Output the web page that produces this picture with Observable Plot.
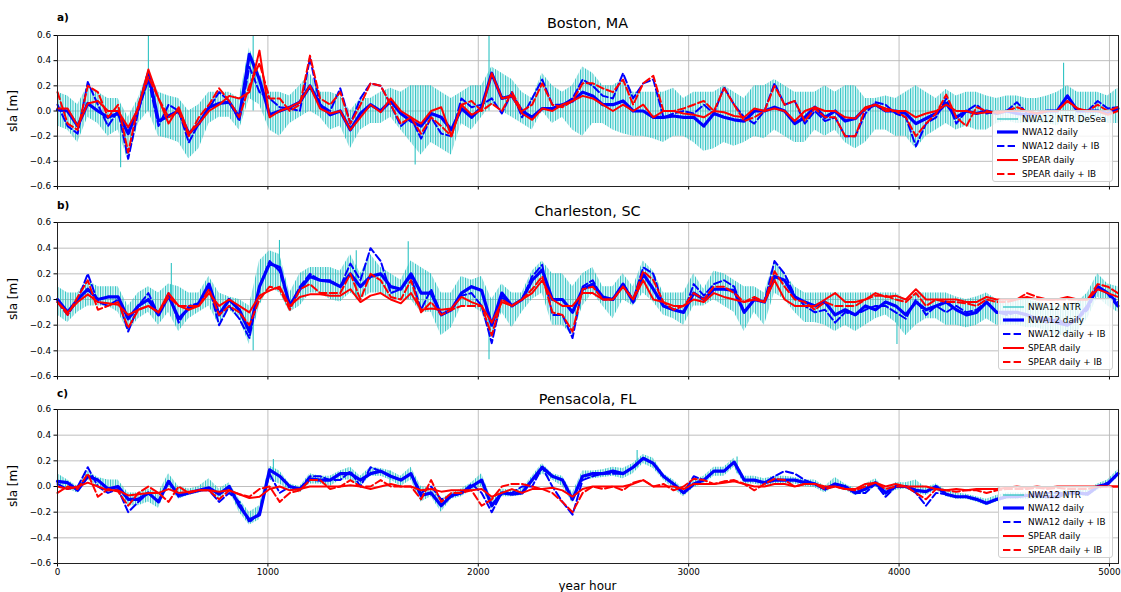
<!DOCTYPE html>
<html><head><meta charset="utf-8">
<script src="https://cdn.jsdelivr.net/npm/d3@7"></script>
<script src="https://cdn.jsdelivr.net/npm/@observablehq/plot@0.6"></script>
<style>
body{margin:0;background:#fff;font-family:"DejaVu Sans",sans-serif;}
#wrap{position:relative;width:1121px;height:592px;overflow:hidden;background:#fff;}
.abs{position:absolute;white-space:nowrap;color:#000;}
.title{font-size:14.4px;text-align:center;line-height:18px;}
.plabel{font-size:10.5px;font-weight:bold;line-height:12px;}
.ylab{font-size:12px;line-height:14px;transform:translate(-50%,-50%) rotate(-90deg);}
.legend{position:absolute;background:rgba(255,255,255,0.8);border:1px solid #d0d0d0;border-radius:3px;box-sizing:border-box;}
.legrow{position:absolute;left:0;height:12px;font-size:8.8px;line-height:12px;color:#000;}
</style>
</head><body><div id="wrap"></div>
<script>
// ---------- data ----------
const hours = d3.range(0, 5041, 48);            // sample hours (every 2 days)
const xTicks = [0, 1000, 2000, 3000, 4000, 5000];
const yTicks = [-0.6, -0.4, -0.2, 0, 0.2, 0.4, 0.6];
const stations = ["Boston, MA", "Charleston, SC", "Pensacola, FL"];
const panelLabels = ["a)", "b)", "c)"];
const ntrLabels = ["NWA12 NTR DeSea", "NWA12 NTR", "NWA12 NTR"];
const seriesLabels = ["NWA12 daily", "NWA12 daily + IB", "SPEAR daily", "SPEAR daily + IB"];

// Boston
const bosNwa = [0.01,0.0,-0.12,0.06,0.0,-0.05,-0.02,-0.18,0.02,0.3,-0.08,-0.04,0.0,-0.18,-0.1,0.03,0.06,0.07,-0.05,0.45,0.25,-0.03,0.0,0.03,0.07,0.2,0.05,
 -0.03,0.0,-0.15,-0.02,0.05,0.0,0.08,-0.02,-0.08,-0.12,-0.02,-0.05,-0.15,0.02,-0.05,0.03,0.3,0.1,0.12,0.0,-0.05,0.02,0.02,0.05,0.08,0.15,0.12,
 0.05,0.05,0.08,0.0,0.0,-0.05,-0.05,-0.04,-0.05,-0.05,-0.12,-0.02,-0.05,-0.07,-0.08,0.0,0.0,0.03,0.0,-0.1,-0.05,0.03,-0.05,0.0,-0.08,-0.06,
 0.02,0.05,0.0,0.0,-0.02,-0.1,-0.06,-0.02,0.06,-0.05,0.0,-0.02,0.0,-0.02,0.0,-0.02,-0.03,-0.02,0.0,0.0,0.12,0.0,0.0,0.0,-0.02,0.02];
const bosNwaIB = [0.05,-0.12,-0.18,0.23,0.05,-0.12,0.0,-0.38,0.0,0.25,-0.12,0.05,0.0,-0.25,-0.1,0.02,0.15,0.08,-0.08,0.35,0.15,0.1,0.03,0.02,0.0,0.42,0.05,
 0.0,0.18,-0.1,0.1,0.22,0.2,0.05,-0.12,-0.05,-0.22,-0.05,-0.18,-0.2,0.1,0.03,0.05,0.1,-0.02,0.15,-0.05,0.1,0.25,0.05,0.05,0.1,0.25,0.2,
 0.12,0.1,0.3,0.1,0.22,0.25,-0.05,-0.02,0.0,-0.02,0.05,-0.02,0.19,0.05,-0.05,-0.1,0.0,0.22,0.05,0.08,-0.1,0.0,-0.08,-0.05,-0.2,-0.2,
 -0.02,0.07,0.05,-0.02,-0.05,-0.28,-0.1,-0.05,0.1,-0.1,0.0,0.05,-0.02,0.0,0.0,0.07,-0.02,-0.02,0.0,0.0,0.12,0.0,0.0,0.08,0.02,0.03];
const bosSpear = [0.02,0.02,-0.12,0.06,0.08,0.0,0.0,-0.13,0.02,0.33,0.1,-0.1,0.03,-0.18,-0.1,0.0,0.05,0.12,0.1,0.15,0.48,-0.05,0.0,0.03,0.07,0.2,0.02,
 -0.02,0.0,-0.15,-0.05,0.05,-0.01,0.1,0.0,-0.05,-0.1,0.0,0.03,-0.2,0.05,-0.03,0.01,0.3,0.1,0.12,-0.02,-0.07,0.02,0.0,0.05,0.08,0.12,0.1,
 0.05,0.0,0.05,0.0,0.05,-0.05,0.0,0.0,-0.02,-0.03,-0.05,0.0,-0.01,-0.04,-0.05,0.02,0.0,0.02,0.0,-0.08,0.0,0.03,0.0,0.0,-0.05,-0.06,
 0.03,0.05,0.02,0.0,0.0,-0.05,-0.02,0.0,0.05,0.0,0.0,-0.02,-0.01,-0.01,0.0,0.0,0.0,-0.02,0.0,0.0,0.08,0.02,0.0,0.0,-0.03,0.0];
const bosSpearIB = [0.15,-0.1,-0.15,0.2,0.15,-0.05,0.05,-0.33,0.05,0.27,0.1,-0.05,0.0,-0.2,-0.05,0.05,0.18,0.08,-0.05,0.2,0.38,0.1,0.1,0.0,0.05,0.44,0.1,
 0.05,0.15,-0.1,0.05,0.22,0.2,0.05,-0.1,-0.05,-0.18,-0.05,-0.12,-0.2,0.05,0.08,0.0,0.06,0.0,0.15,0.0,0.05,0.22,0.05,0.03,0.08,0.22,0.22,
 0.18,0.15,0.25,0.05,0.22,0.28,0.0,0.0,0.02,0.05,0.08,0.0,0.18,0.05,-0.08,-0.05,0.0,0.2,0.05,0.08,-0.08,0.02,-0.05,-0.05,-0.2,-0.2,
 0.02,0.05,0.0,0.0,-0.05,-0.2,-0.1,-0.02,0.13,-0.05,-0.12,0.03,0.0,-0.02,0.0,0.03,0.0,-0.02,0.0,0.0,0.08,0.02,0.0,0.05,0.0,0.03];
const bosNtrHi = [0.15,0.12,0.05,0.2,0.15,0.1,0.1,-0.05,0.1,0.32,0.15,0.12,0.1,0.0,0.05,0.15,0.15,0.15,0.1,0.5,0.3,0.15,0.15,0.12,0.2,0.3,0.15,
 0.15,0.12,0.0,0.1,0.1,0.15,0.18,0.15,0.2,0.2,0.2,0.15,0.1,0.15,0.2,0.2,0.35,0.3,0.25,0.15,0.1,0.3,0.2,0.15,0.2,0.35,0.3,
 0.2,0.2,0.25,0.15,0.15,0.15,0.15,0.18,0.1,0.15,0.15,0.15,0.2,0.15,0.1,0.2,0.2,0.25,0.2,0.15,0.15,0.15,0.2,0.15,0.2,0.2,
 0.1,0.1,0.12,0.1,0.15,0.2,0.15,0.1,0.17,0.12,0.15,0.15,0.12,0.1,0.12,0.12,0.1,0.1,0.12,0.15,0.2,0.15,0.15,0.15,0.12,0.18];
const bosNtrLo = [-0.12,-0.15,-0.25,-0.05,-0.1,-0.2,-0.15,-0.4,-0.1,0.0,-0.2,-0.22,-0.25,-0.38,-0.3,-0.1,-0.05,-0.05,-0.15,0.1,0.05,-0.15,-0.2,-0.1,-0.05,0.0,-0.05,
 -0.15,-0.12,-0.3,-0.15,-0.1,-0.1,-0.05,-0.15,-0.25,-0.35,-0.25,-0.3,-0.35,-0.1,-0.15,-0.05,0.05,0.0,-0.05,-0.1,-0.15,0.0,-0.1,-0.05,-0.15,-0.2,-0.1,
 -0.1,-0.15,-0.18,-0.2,-0.2,-0.22,-0.25,-0.2,-0.2,-0.25,-0.32,-0.3,-0.25,-0.28,-0.25,-0.2,-0.22,-0.15,-0.2,-0.25,-0.25,-0.15,-0.2,-0.15,-0.25,-0.3,
 -0.25,-0.15,-0.15,-0.2,-0.2,-0.3,-0.2,-0.15,-0.1,-0.15,-0.12,-0.15,-0.15,-0.1,-0.08,-0.1,-0.1,-0.1,-0.1,-0.12,-0.05,-0.1,-0.1,-0.05,-0.1,-0.1];
// isolated hourly extremes (hour, bottom, top)
const bosSpikeHours = [300, 432, 930, 1700, 2051, 4782];
const bosSpikeBottom = [-0.45, 0.0, 0.0, -0.43, 0.0, 0.0];
const bosSpikeTop = [-0.1, 0.6, 0.6, -0.1, 0.6, 0.38];

// Charleston
const chaNwa = [0.0,-0.1,0.0,0.08,0.0,0.02,0.02,-0.15,-0.05,0.0,-0.12,0.03,-0.15,-0.07,-0.03,0.12,-0.12,0.0,-0.08,-0.25,0.1,0.28,0.25,-0.05,0.08,0.18,0.15,
 0.14,0.1,0.2,0.1,0.18,0.2,0.1,0.08,0.2,0.05,0.05,-0.12,-0.08,0.05,0.1,0.07,-0.2,0.05,-0.05,0.0,0.15,0.23,0.0,0.0,-0.1,0.08,0.12,
 0.02,0.0,0.12,-0.02,0.2,0.08,-0.05,-0.08,-0.1,0.05,0.0,0.08,0.08,0.07,-0.1,0.0,-0.02,0.18,0.15,0.02,-0.02,-0.05,-0.02,-0.12,-0.08,-0.12,
 -0.05,-0.08,-0.02,-0.05,-0.12,-0.02,-0.08,-0.05,-0.02,-0.08,-0.12,-0.1,-0.02,-0.1,-0.1,-0.1,-0.12,-0.15,-0.15,-0.18,-0.2,-0.15,-0.05,0.1,0.05,-0.05];
const chaNwaIB = [-0.02,-0.12,0.0,0.2,-0.02,-0.05,0.0,-0.25,-0.05,0.05,-0.12,0.05,-0.18,-0.05,-0.03,0.1,-0.2,-0.05,-0.15,-0.3,0.1,0.3,0.22,-0.05,0.1,0.2,0.15,
 0.15,0.1,0.28,0.15,0.4,0.3,0.05,0.08,0.18,-0.08,0.08,-0.12,-0.08,0.03,0.05,-0.05,-0.34,0.02,-0.05,0.0,0.18,0.27,-0.12,-0.12,-0.3,0.1,0.15,
 0.0,0.0,0.12,0.0,0.25,0.2,-0.05,-0.08,-0.1,0.12,0.03,0.12,0.15,0.1,-0.1,0.0,-0.02,0.3,0.2,0.03,-0.05,-0.1,-0.08,-0.18,-0.1,-0.12,
 -0.08,-0.05,-0.05,-0.1,-0.15,0.0,-0.12,-0.05,-0.1,-0.05,-0.1,-0.08,-0.02,-0.1,-0.12,-0.1,-0.12,-0.15,-0.18,-0.15,-0.2,-0.15,-0.08,0.1,0.05,-0.02];
const chaSpear = [-0.02,-0.1,-0.02,0.04,-0.02,-0.03,-0.04,-0.12,-0.08,-0.05,-0.1,0.05,-0.05,-0.08,-0.05,0.05,-0.05,0.0,-0.05,-0.1,0.03,0.07,0.1,-0.05,0.02,0.04,0.04,
 0.03,0.03,0.08,-0.02,0.03,0.05,0.0,-0.03,0.05,-0.08,-0.07,-0.08,-0.07,0.02,-0.02,-0.05,-0.18,-0.02,-0.05,0.0,0.05,0.15,0.0,-0.05,-0.05,0.05,0.05,
 0.0,0.0,0.1,0.0,0.15,0.0,-0.02,-0.05,-0.05,0.0,-0.02,0.05,0.02,0.0,-0.02,0.0,-0.02,0.15,0.0,-0.05,-0.05,-0.05,0.0,0.05,-0.02,-0.02,
 0.0,0.05,0.02,0.03,0.0,0.08,0.0,0.0,0.0,0.0,-0.02,-0.02,0.02,0.0,0.0,0.0,0.02,0.0,0.0,0.0,0.02,0.0,0.0,0.08,0.05,0.02];
const chaSpearIB = [-0.02,-0.12,0.02,0.15,-0.08,-0.05,-0.02,-0.22,-0.08,-0.05,-0.1,0.02,-0.05,-0.05,-0.05,0.08,-0.12,-0.05,-0.1,-0.2,0.0,0.1,0.08,-0.08,0.08,0.12,0.05,
 0.05,0.05,0.2,0.0,0.2,0.15,0.02,0.0,0.15,-0.1,-0.02,-0.12,-0.08,-0.05,-0.05,-0.05,-0.28,0.0,-0.05,0.0,0.08,0.18,-0.1,-0.12,-0.25,0.08,0.1,
 0.0,0.0,0.1,0.0,0.22,0.15,-0.02,-0.08,-0.05,0.05,0.0,0.1,0.1,0.05,-0.02,0.02,-0.02,0.22,0.1,0.0,-0.02,-0.08,-0.02,-0.05,-0.05,-0.05,
 0.0,0.03,0.03,0.0,-0.02,0.05,-0.05,0.0,-0.02,-0.02,-0.03,-0.05,0.0,-0.02,-0.02,0.0,0.05,0.02,0.0,0.0,0.0,0.0,0.0,0.12,0.1,0.05];
const chaNtrHi = [0.1,0.05,0.05,0.15,0.1,0.1,0.1,-0.05,0.05,0.1,0.05,0.12,0.1,0.05,0.05,0.18,0.05,0.02,0.0,-0.05,0.3,0.38,0.35,0.05,0.2,0.25,0.25,
 0.25,0.22,0.35,0.2,0.35,0.25,0.2,0.15,0.3,0.25,0.2,0.05,0.05,0.18,0.15,0.18,0.0,0.12,0.05,0.05,0.22,0.3,0.2,0.2,0.1,0.2,0.25,
 0.1,0.1,0.2,0.1,0.3,0.22,0.05,0.05,0.05,0.2,0.08,0.22,0.2,0.15,0.1,0.1,0.05,0.3,0.2,0.1,0.05,0.05,0.05,0.05,0.05,0.05,
 0.05,0.05,0.05,0.05,0.0,0.05,0.05,0.05,0.05,0.02,0.0,0.02,0.05,0.0,0.0,0.0,0.0,-0.02,-0.05,-0.05,-0.05,-0.02,0.05,0.2,0.12,0.1];
const chaNtrLo = [-0.12,-0.18,-0.1,-0.05,-0.05,-0.05,-0.1,-0.25,-0.15,-0.1,-0.2,-0.1,-0.25,-0.15,-0.1,-0.05,-0.2,-0.08,-0.15,-0.35,-0.05,0.1,0.05,-0.1,-0.05,0.05,0.05,
 0.0,-0.02,0.05,0.0,0.05,0.05,0.0,0.0,0.0,-0.1,-0.1,-0.28,-0.22,-0.05,-0.05,-0.1,-0.3,-0.1,-0.22,-0.1,0.0,0.05,-0.2,-0.2,-0.28,-0.05,0.05,
 -0.05,-0.15,0.0,-0.05,0.05,-0.02,-0.12,-0.15,-0.2,-0.05,-0.05,0.0,-0.05,-0.1,-0.25,-0.1,-0.2,0.05,0.0,-0.1,-0.18,-0.18,-0.2,-0.25,-0.2,-0.25,
 -0.2,-0.15,-0.12,-0.18,-0.28,-0.2,-0.15,-0.15,-0.2,-0.2,-0.22,-0.2,-0.15,-0.2,-0.2,-0.2,-0.22,-0.22,-0.25,-0.28,-0.28,-0.25,-0.15,0.02,-0.05,-0.1];
const chaSpikeHours = [541, 930, 1055, 1420, 1667, 2051, 3990];
const chaSpikeBottom = [0.0, -0.4, 0.2, 0.0, 0.0, -0.47, -0.35];
const chaSpikeTop = [0.28, -0.1, 0.46, 0.38, 0.45, -0.1, -0.1];

// Pensacola
const penNwa = [0.04,0.03,-0.03,0.08,0.05,-0.02,0.0,-0.1,-0.1,-0.05,-0.12,0.04,-0.07,-0.05,-0.03,-0.01,-0.06,0.0,-0.15,-0.26,-0.22,0.13,0.08,0.0,-0.02,0.06,0.05,
 0.05,0.1,0.1,0.05,0.1,0.12,0.08,0.05,0.1,-0.07,-0.05,-0.15,-0.07,-0.05,0.0,0.05,-0.15,-0.05,-0.06,-0.05,0.05,0.15,0.08,0.05,-0.1,0.08,0.1,
 0.1,0.12,0.1,0.15,0.22,0.18,0.08,0.02,-0.05,0.02,0.05,0.12,0.12,0.19,0.05,0.05,0.03,0.05,0.05,0.05,0.03,0.02,-0.02,0.02,0.0,-0.05,
 -0.02,0.03,-0.05,0.0,0.0,-0.03,-0.04,0.0,-0.06,-0.08,-0.08,-0.1,-0.13,-0.1,-0.08,-0.08,-0.07,-0.07,-0.08,-0.08,-0.05,-0.05,-0.06,0.0,0.02,0.1];
const penNwaIB = [0.02,-0.02,0.0,0.15,0.0,-0.05,-0.02,-0.2,-0.12,-0.05,-0.12,0.05,-0.08,-0.05,-0.03,-0.03,-0.12,-0.05,-0.12,-0.28,-0.2,0.1,-0.05,0.0,-0.02,0.08,0.08,
 0.05,0.05,0.12,0.0,0.15,0.12,0.08,0.05,0.1,-0.05,0.0,-0.1,-0.08,-0.05,0.02,-0.05,-0.2,-0.05,-0.05,0.0,0.0,0.15,0.0,-0.12,-0.22,0.05,0.08,
 0.1,0.1,0.1,0.15,0.22,0.18,0.08,0.02,-0.05,0.08,0.05,0.12,0.12,0.19,0.05,0.05,0.03,0.08,0.12,0.1,0.05,0.02,-0.02,0.02,0.0,-0.05,
 -0.05,0.02,-0.08,0.0,0.0,-0.05,-0.15,-0.05,-0.06,-0.08,-0.08,-0.1,-0.13,-0.1,-0.08,-0.08,-0.07,-0.05,-0.05,-0.05,-0.05,-0.05,-0.05,0.0,0.03,0.1];
const penSpear = [0.0,-0.02,0.0,0.03,0.0,-0.03,-0.03,-0.07,-0.06,-0.05,-0.05,-0.02,-0.05,-0.04,-0.03,-0.03,-0.04,-0.03,-0.06,-0.09,-0.08,-0.02,0.0,-0.03,-0.02,0.0,0.0,
 0.0,0.0,0.01,0.0,-0.02,0.0,0.02,0.0,0.0,-0.03,-0.02,-0.04,-0.03,-0.03,-0.03,-0.02,-0.08,-0.05,-0.02,-0.05,-0.02,-0.02,-0.01,-0.03,-0.08,-0.02,0.0,
 0.0,0.0,0.0,0.02,0.05,0.0,0.0,0.0,-0.02,0.02,0.02,0.02,0.03,0.04,0.02,0.0,0.0,0.02,0.02,0.0,0.02,0.02,0.0,0.0,-0.02,-0.02,
 0.02,0.03,0.0,0.02,0.0,0.0,0.0,-0.02,-0.03,-0.02,-0.03,-0.02,-0.02,-0.02,-0.01,0.0,-0.01,0.0,-0.01,0.0,0.0,0.0,0.0,0.0,0.0,0.0];
const penSpearIB = [-0.05,0.0,-0.02,0.1,-0.08,-0.02,-0.04,-0.15,-0.05,0.0,-0.05,-0.12,0.0,-0.05,-0.03,-0.03,-0.1,-0.03,-0.06,-0.08,-0.02,0.0,-0.12,-0.05,-0.03,0.05,0.05,
 -0.02,0.0,0.05,0.0,0.0,0.05,0.0,0.0,0.0,-0.1,0.05,-0.12,-0.05,-0.05,-0.03,-0.15,-0.1,0.0,0.02,0.02,0.0,-0.02,-0.05,-0.12,-0.2,-0.05,0.0,
 -0.02,0.0,-0.03,0.03,0.05,0.0,0.02,-0.03,0.0,0.06,0.05,0.02,0.04,0.05,0.02,-0.03,0.02,0.06,0.05,0.0,0.02,0.02,-0.02,0.0,-0.02,-0.03,
 0.0,0.03,-0.02,0.0,0.0,-0.05,-0.1,-0.02,-0.03,-0.04,-0.03,-0.03,-0.05,-0.03,-0.02,-0.02,-0.02,-0.01,-0.02,-0.01,-0.02,-0.02,-0.02,0.0,0.0,0.0];
const penNtrHi = [0.1,0.05,0.0,0.12,0.07,0.05,0.05,-0.05,-0.05,-0.02,-0.05,0.1,0.0,-0.02,0.0,0.06,-0.02,0.03,-0.1,-0.2,-0.15,0.16,0.12,0.02,0.0,0.1,0.08,
 0.08,0.12,0.15,0.08,0.15,0.14,0.12,0.08,0.15,0.0,-0.02,-0.1,-0.05,-0.02,0.03,0.1,-0.1,-0.02,-0.03,-0.02,0.08,0.18,0.1,0.08,-0.05,0.12,0.12,
 0.13,0.15,0.14,0.18,0.25,0.22,0.1,0.05,-0.02,0.05,0.08,0.15,0.15,0.22,0.08,0.08,0.06,0.08,0.08,0.07,0.05,0.05,0.0,0.07,0.02,-0.02,
 0.02,0.06,-0.02,0.03,0.03,0.05,-0.01,0.02,-0.03,-0.05,-0.06,-0.08,-0.1,-0.07,-0.05,-0.05,-0.05,-0.05,-0.05,-0.05,-0.03,-0.02,-0.03,0.02,0.05,0.13];
const penNtrLo = [0.0,-0.02,-0.05,0.05,0.0,-0.05,-0.02,-0.15,-0.15,-0.12,-0.17,0.0,-0.1,-0.07,-0.05,-0.03,-0.1,-0.03,-0.2,-0.3,-0.26,0.05,0.02,-0.03,-0.05,0.02,0.02,
 0.0,0.05,0.05,0.0,0.08,0.08,0.05,0.0,0.05,-0.12,-0.08,-0.2,-0.1,-0.08,-0.03,0.0,-0.18,-0.08,-0.08,-0.07,0.02,0.1,0.05,0.0,-0.13,0.05,0.06,
 0.07,0.08,0.06,0.1,0.18,0.14,0.05,-0.02,-0.08,-0.01,0.02,0.08,0.08,0.15,0.02,0.02,0.0,0.02,0.02,0.02,0.0,-0.01,-0.05,0.0,-0.03,-0.07,
 -0.05,0.0,-0.08,-0.03,-0.02,-0.05,-0.07,-0.03,-0.08,-0.1,-0.1,-0.12,-0.15,-0.12,-0.1,-0.1,-0.1,-0.1,-0.1,-0.1,-0.08,-0.07,-0.08,-0.03,0.0,0.07];
const penSpikeHours = [1026, 1580, 2755, 3230];
const penSpikeBottom = [0.1, 0.0, 0.15, 0.1];
const penSpikeTop = [0.21, 0.12, 0.28, 0.23];

// ---------- build ----------
const panels = [
  {nwa: bosNwa, nwaIB: bosNwaIB, spear: bosSpear, spearIB: bosSpearIB, hi: bosNtrHi, lo: bosNtrLo, sh: bosSpikeHours, sb: bosSpikeBottom, st: bosSpikeTop},
  {nwa: chaNwa, nwaIB: chaNwaIB, spear: chaSpear, spearIB: chaSpearIB, hi: chaNtrHi, lo: chaNtrLo, sh: chaSpikeHours, sb: chaSpikeBottom, st: chaSpikeTop},
  {nwa: penNwa, nwaIB: penNwaIB, spear: penSpear, spearIB: penSpearIB, hi: penNtrHi, lo: penNtrLo, sh: penSpikeHours, sb: penSpikeBottom, st: penSpikeTop}
];
const geom = [
  {top: 0,   height: 200, mt: 35, mb: 14, legLeft: 992, legTop: 110, titleY: 23,  labY: 17},
  {top: 200, height: 190, mt: 22, mb: 14, legLeft: 998, legTop: 298, titleY: 211, labY: 205},
  {top: 390, height: 202, mt: 19, mb: 29, legLeft: 998, legTop: 486, titleY: 399, labY: 393}
];
const BLUE = "#0000ff", RED = "#ff0000", CYAN = "#2cc3c3";
const DASH = "7.4,3.2";
const fmtY = d => d.toFixed(1).replace("-", "\u2212");
const wrap = document.getElementById("wrap");

panels.forEach((p, i) => {
  const g = geom[i];
  const data = hours.map((h, j) => ({h, nwa: p.nwa[j], nwaIB: p.nwaIB[j], spear: p.spear[j], spearIB: p.spearIB[j], hi: p.hi[j], lo: p.lo[j]}));
  const spikes = p.sh.map((h, j) => ({h, b: p.sb[j], t: p.st[j]}));
  const svg = Plot.plot({
    width: 1121, height: g.height,
    marginLeft: 57, marginRight: 3, marginTop: g.mt, marginBottom: g.mb,
    style: {fontFamily: "DejaVu Sans, sans-serif", fontSize: "8.8px", background: "transparent", overflow: "visible", color: "#000"},
    x: {domain: [0, 5043]},
    y: {domain: [-0.6, 0.6]},
    marks: [
      Plot.gridY(yTicks, {stroke: "#b8b8b8", strokeOpacity: 1, strokeWidth: 0.9}),
      Plot.gridX(xTicks, {stroke: "#b8b8b8", strokeOpacity: 1, strokeWidth: 0.9}),
      Plot.areaY(data, {x: "h", y1: "lo", y2: "hi", fill: CYAN, fillOpacity: 0.12}),
      Plot.areaY(data, {x: "h", y1: "lo", y2: "hi", fill: CYAN, className: "ntrband" + i}),
      Plot.ruleX(spikes, {x: "h", y1: "b", y2: "t", stroke: CYAN, strokeWidth: 1.1}),
      Plot.line(data, {x: "h", y: "nwa", stroke: BLUE, strokeWidth: 3.2}),
      Plot.line(data, {x: "h", y: "nwaIB", stroke: BLUE, strokeWidth: 2, strokeDasharray: DASH}),
      Plot.line(data, {x: "h", y: "spear", stroke: RED, strokeWidth: 2}),
      Plot.line(data, {x: "h", y: "spearIB", stroke: RED, strokeWidth: 2, strokeDasharray: DASH}),
      Plot.axisY(yTicks, {tickFormat: fmtY, tickSize: 3.5, tickPadding: 3, label: null, stroke: "#000"}),
      Plot.axisX(xTicks, {tickSize: 3.5, tickPadding: 2, label: null, stroke: "#000",
        tickFormat: i === 2 ? (d => String(d)) : (() => "")}),
      Plot.frame({stroke: "#222", strokeWidth: 1})
    ]
  });
  svg.style.position = "absolute";
  svg.style.left = "0px";
  svg.style.top = g.top + "px";
  // striped pattern imitating the dense hourly signal
  const sel = d3.select(svg);
  const defs = sel.insert("defs", ":first-child");
  const pat = defs.append("pattern").attr("id", "stripes" + i)
    .attr("patternUnits", "userSpaceOnUse").attr("width", 2.5).attr("height", 10);
  pat.append("rect").attr("x", 0).attr("y", 0).attr("width", 1.0).attr("height", 10).attr("fill", CYAN);
  sel.selectAll("g.ntrband" + i + ", g.ntrband" + i + " path").attr("fill", "url(#stripes" + i + ")");
  wrap.appendChild(svg);

  // title, panel label, y label
  const t = document.createElement("div");
  t.className = "abs title";
  t.style.left = "57px"; t.style.width = "1061px"; t.style.top = (g.titleY - 9) + "px";
  t.textContent = stations[i];
  wrap.appendChild(t);
  const pl = document.createElement("div");
  pl.className = "abs plabel";
  pl.style.left = "57px"; pl.style.top = (g.labY - 6) + "px";
  pl.textContent = panelLabels[i];
  wrap.appendChild(pl);
  const yl = document.createElement("div");
  yl.className = "abs ylab";
  yl.style.left = "13px"; yl.style.top = (g.top + g.mt + (g.height - g.mt - g.mb) / 2) + "px";
  yl.textContent = "sla [m]";
  wrap.appendChild(yl);

  // legend
  const leg = document.createElement("div");
  leg.className = "legend";
  leg.style.left = g.legLeft + "px"; leg.style.top = g.legTop + "px";
  leg.style.width = (1113 - g.legLeft) + "px"; leg.style.height = "72px";
  const entries = [
    {label: ntrLabels[i], color: CYAN, w: 1.3, dash: null},
    {label: seriesLabels[0], color: BLUE, w: 3.2, dash: null},
    {label: seriesLabels[1], color: BLUE, w: 2, dash: DASH},
    {label: seriesLabels[2], color: RED, w: 2, dash: null},
    {label: seriesLabels[3], color: RED, w: 2, dash: DASH}
  ];
  entries.forEach((e, r) => {
    const row = document.createElement("div");
    row.className = "legrow";
    row.style.top = (8.5 + 13.8 * r - 6 - 1) + "px";
    row.style.width = "100%";
    row.innerHTML = `<svg width="24" height="12" style="position:absolute;left:3px;top:0"><line x1="1" x2="22" y1="6" y2="6" stroke="${e.color}" stroke-width="${e.w}" ${e.dash ? `stroke-dasharray="${e.dash}"` : ""}/></svg><span style="position:absolute;left:29px;top:0">${e.label}</span>`;
    leg.appendChild(row);
  });
  wrap.appendChild(leg);
});

const xl = document.createElement("div");
xl.className = "abs";
xl.style.cssText = "left:57px;width:1061px;top:579px;text-align:center;font-size:12px;line-height:14px;";
xl.textContent = "year hour";
wrap.appendChild(xl);
</script>
</body></html>
